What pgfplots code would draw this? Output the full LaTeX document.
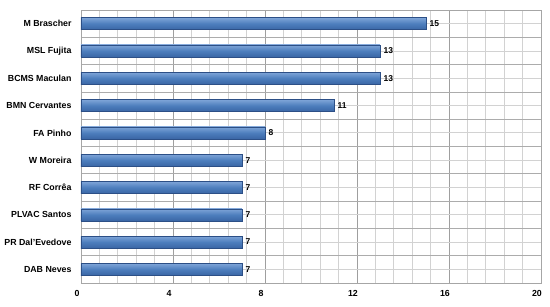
\documentclass[border=0pt]{standalone}
\usepackage{fontspec}
\setmainfont{Liberation Sans}
\usepackage{pgfplots}
\pgfplotsset{compat=1.18}
\definecolor{barmid}{HTML}{4D7EBD}
\definecolor{bartop}{HTML}{7FA5D8}
\definecolor{barbot}{HTML}{3A66A5}
\definecolor{baredge}{HTML}{2C4F86}
\pgfplotsset{mybar/.style={xbar, bar width=12pt, bar shift=0pt, draw=baredge, line width=0.5pt,
  top color=bartop, bottom color=barbot, middle color=barmid}}
\begin{document}
\begin{tikzpicture}[x=1pt,y=1pt]
\path[use as bounding box] (0,0) rectangle (550,306);
\begin{axis}[
  at={(81pt,23pt)}, anchor=south west,
  scale only axis, width=460pt, height=273pt,
  xmin=0, xmax=20, ymin=-0.5, ymax=9.5, y dir=reverse,
  xtick={0,4,...,20}, minor x tick num=4,
  ytick={0,...,9}, minor ytick={-0.5,0.5,...,9.5},
  yticklabels={M Brascher,MSL Fujita,BCMS Maculan,BMN Cervantes,FA Pinho,W Moreira,RF Corrêa,PLVAC Santos,PR Dal'Evedove,DAB Neves},
  major tick length=0pt, minor tick length=0pt,
  grid=both,
  every major x grid/.append style={gray!75, line width=0.8pt},
  every minor x grid/.append style={gray!35, line width=0.8pt},
  every major y grid/.append style={gray!35, line width=0.8pt},
  every minor y grid/.append style={gray!65, line width=0.8pt},
  axis line style={gray!70, line width=0.8pt},
  /pgf/number format/assume math mode=true,
  tick label style={font=\bfseries\fontsize{8.8}{10}\selectfont},
  yticklabel style={xshift=-6pt},
  xticklabel style={yshift=-4pt, xshift=-4pt},
  point meta=x,
  nodes near coords,
  nodes near coords style={font=\bfseries\fontsize{8.5}{10}\selectfont, anchor=west, xshift=0pt},
]
\addplot[mybar] coordinates {(15,0)};
\addplot[mybar] coordinates {(13,1)};
\addplot[mybar] coordinates {(13,2)};
\addplot[mybar] coordinates {(11,3)};
\addplot[mybar] coordinates {(8,4)};
\addplot[mybar] coordinates {(7,5)};
\addplot[mybar] coordinates {(7,6)};
\addplot[mybar] coordinates {(7,7)};
\addplot[mybar] coordinates {(7,8)};
\addplot[mybar] coordinates {(7,9)};
\end{axis}
\end{tikzpicture}
\end{document}
